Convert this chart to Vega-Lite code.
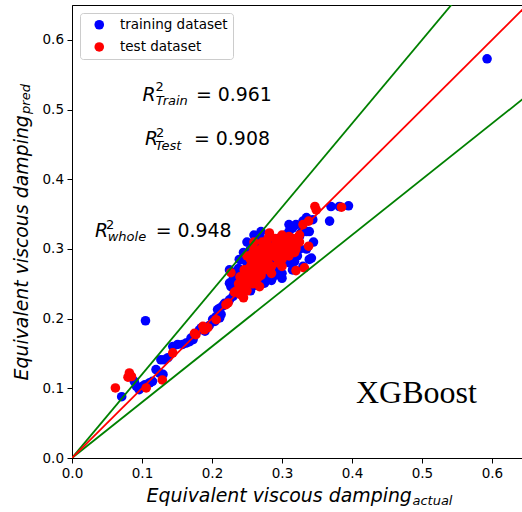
{
  "$schema": "https://vega.github.io/schema/vega-lite/v6.json",
  "width": 450,
  "height": 453,
  "autosize": {"type": "none"},
  "padding": {"left": 72, "top": 5, "right": 0, "bottom": 54},
  "background": "white",
  "config": {
    "view": {"stroke": "#000000", "strokeWidth": 1},
    "font": "DejaVu Sans",
    "axis": {
      "grid": false,
      "tickSize": 5,
      "tickColor": "#000000",
      "tickWidth": 1,
      "domainColor": "#000000",
      "domainWidth": 1,
      "labelColor": "#000000",
      "labelFont": "DejaVu Sans",
      "labelFontSize": 13.5,
      "labelPadding": 3.5,
      "labelFlush": false,
      "labelOverlap": false,
      "titleColor": "#000000",
      "titleFont": "DejaVu Sans",
      "titleFontStyle": "italic",
      "titleFontWeight": "normal",
      "titleFontSize": 18.9
    }
  },
  "datasets": {
    "points": [
      {"set": "training dataset", "actual": 0.071, "pred": 0.088},
      {"set": "training dataset", "actual": 0.089, "pred": 0.110},
      {"set": "training dataset", "actual": 0.092, "pred": 0.103},
      {"set": "training dataset", "actual": 0.096, "pred": 0.098},
      {"set": "training dataset", "actual": 0.101, "pred": 0.103},
      {"set": "training dataset", "actual": 0.104, "pred": 0.105},
      {"set": "training dataset", "actual": 0.111, "pred": 0.108},
      {"set": "training dataset", "actual": 0.115, "pred": 0.110},
      {"set": "training dataset", "actual": 0.120, "pred": 0.127},
      {"set": "training dataset", "actual": 0.125, "pred": 0.122},
      {"set": "training dataset", "actual": 0.130, "pred": 0.120},
      {"set": "training dataset", "actual": 0.127, "pred": 0.141},
      {"set": "training dataset", "actual": 0.132, "pred": 0.141},
      {"set": "training dataset", "actual": 0.137, "pred": 0.144},
      {"set": "training dataset", "actual": 0.105, "pred": 0.197},
      {"set": "training dataset", "actual": 0.144, "pred": 0.160},
      {"set": "training dataset", "actual": 0.151, "pred": 0.163},
      {"set": "training dataset", "actual": 0.158, "pred": 0.163},
      {"set": "training dataset", "actual": 0.163, "pred": 0.165},
      {"set": "training dataset", "actual": 0.168, "pred": 0.167},
      {"set": "training dataset", "actual": 0.170, "pred": 0.172},
      {"set": "training dataset", "actual": 0.173, "pred": 0.170},
      {"set": "training dataset", "actual": 0.182, "pred": 0.184},
      {"set": "training dataset", "actual": 0.185, "pred": 0.187},
      {"set": "training dataset", "actual": 0.190, "pred": 0.182},
      {"set": "training dataset", "actual": 0.196, "pred": 0.190},
      {"set": "training dataset", "actual": 0.201, "pred": 0.199},
      {"set": "training dataset", "actual": 0.206, "pred": 0.203},
      {"set": "training dataset", "actual": 0.204, "pred": 0.196},
      {"set": "training dataset", "actual": 0.211, "pred": 0.201},
      {"set": "training dataset", "actual": 0.213, "pred": 0.206},
      {"set": "training dataset", "actual": 0.208, "pred": 0.213},
      {"set": "training dataset", "actual": 0.211, "pred": 0.215},
      {"set": "training dataset", "actual": 0.215, "pred": 0.218},
      {"set": "training dataset", "actual": 0.218, "pred": 0.222},
      {"set": "training dataset", "actual": 0.225, "pred": 0.227},
      {"set": "training dataset", "actual": 0.230, "pred": 0.232},
      {"set": "training dataset", "actual": 0.225, "pred": 0.251},
      {"set": "training dataset", "actual": 0.230, "pred": 0.256},
      {"set": "training dataset", "actual": 0.227, "pred": 0.246},
      {"set": "training dataset", "actual": 0.232, "pred": 0.244},
      {"set": "training dataset", "actual": 0.237, "pred": 0.254},
      {"set": "training dataset", "actual": 0.239, "pred": 0.285},
      {"set": "training dataset", "actual": 0.246, "pred": 0.285},
      {"set": "training dataset", "actual": 0.242, "pred": 0.285},
      {"set": "training dataset", "actual": 0.225, "pred": 0.270},
      {"set": "training dataset", "actual": 0.235, "pred": 0.265},
      {"set": "training dataset", "actual": 0.240, "pred": 0.240},
      {"set": "training dataset", "actual": 0.245, "pred": 0.250},
      {"set": "training dataset", "actual": 0.250, "pred": 0.245},
      {"set": "training dataset", "actual": 0.255, "pred": 0.240},
      {"set": "training dataset", "actual": 0.262, "pred": 0.248},
      {"set": "training dataset", "actual": 0.275, "pred": 0.251},
      {"set": "training dataset", "actual": 0.270, "pred": 0.256},
      {"set": "training dataset", "actual": 0.280, "pred": 0.262},
      {"set": "training dataset", "actual": 0.285, "pred": 0.255},
      {"set": "training dataset", "actual": 0.296, "pred": 0.270},
      {"set": "training dataset", "actual": 0.300, "pred": 0.265},
      {"set": "training dataset", "actual": 0.311, "pred": 0.280},
      {"set": "training dataset", "actual": 0.339, "pred": 0.285},
      {"set": "training dataset", "actual": 0.342, "pred": 0.287},
      {"set": "training dataset", "actual": 0.330, "pred": 0.275},
      {"set": "training dataset", "actual": 0.322, "pred": 0.290},
      {"set": "training dataset", "actual": 0.315, "pred": 0.300},
      {"set": "training dataset", "actual": 0.320, "pred": 0.310},
      {"set": "training dataset", "actual": 0.325, "pred": 0.318},
      {"set": "training dataset", "actual": 0.330, "pred": 0.328},
      {"set": "training dataset", "actual": 0.335, "pred": 0.325},
      {"set": "training dataset", "actual": 0.339, "pred": 0.325},
      {"set": "training dataset", "actual": 0.327, "pred": 0.323},
      {"set": "training dataset", "actual": 0.344, "pred": 0.342},
      {"set": "training dataset", "actual": 0.330, "pred": 0.340},
      {"set": "training dataset", "actual": 0.335, "pred": 0.345},
      {"set": "training dataset", "actual": 0.368, "pred": 0.340},
      {"set": "training dataset", "actual": 0.370, "pred": 0.361},
      {"set": "training dataset", "actual": 0.382, "pred": 0.361},
      {"set": "training dataset", "actual": 0.395, "pred": 0.362},
      {"set": "training dataset", "actual": 0.593, "pred": 0.573},
      {"set": "training dataset", "actual": 0.255, "pred": 0.300},
      {"set": "training dataset", "actual": 0.260, "pred": 0.310},
      {"set": "training dataset", "actual": 0.265, "pred": 0.305},
      {"set": "training dataset", "actual": 0.270, "pred": 0.315},
      {"set": "training dataset", "actual": 0.275, "pred": 0.305},
      {"set": "training dataset", "actual": 0.290, "pred": 0.300},
      {"set": "training dataset", "actual": 0.300, "pred": 0.310},
      {"set": "training dataset", "actual": 0.305, "pred": 0.320},
      {"set": "training dataset", "actual": 0.310, "pred": 0.325},
      {"set": "training dataset", "actual": 0.315, "pred": 0.330},
      {"set": "training dataset", "actual": 0.295, "pred": 0.315},
      {"set": "training dataset", "actual": 0.285, "pred": 0.310},
      {"set": "training dataset", "actual": 0.250, "pred": 0.280},
      {"set": "training dataset", "actual": 0.258, "pred": 0.270},
      {"set": "training dataset", "actual": 0.265, "pred": 0.275},
      {"set": "training dataset", "actual": 0.248, "pred": 0.262},
      {"set": "training dataset", "actual": 0.233, "pred": 0.258},
      {"set": "training dataset", "actual": 0.238, "pred": 0.272},
      {"set": "training dataset", "actual": 0.290, "pred": 0.283},
      {"set": "training dataset", "actual": 0.305, "pred": 0.290},
      {"set": "training dataset", "actual": 0.312, "pred": 0.292},
      {"set": "training dataset", "actual": 0.325, "pred": 0.300},
      {"set": "training dataset", "actual": 0.318, "pred": 0.282},
      {"set": "training dataset", "actual": 0.280, "pred": 0.295},
      {"set": "training dataset", "actual": 0.275, "pred": 0.288},
      {"set": "training dataset", "actual": 0.260, "pred": 0.320},
      {"set": "training dataset", "actual": 0.270, "pred": 0.325},
      {"set": "training dataset", "actual": 0.245, "pred": 0.295},
      {"set": "training dataset", "actual": 0.250, "pred": 0.310},
      {"set": "training dataset", "actual": 0.310, "pred": 0.335},
      {"set": "training dataset", "actual": 0.320, "pred": 0.335},
      {"set": "training dataset", "actual": 0.315, "pred": 0.270},
      {"set": "training dataset", "actual": 0.300, "pred": 0.258},
      {"set": "training dataset", "actual": 0.290, "pred": 0.262},
      {"set": "training dataset", "actual": 0.335, "pred": 0.300},
      {"set": "training dataset", "actual": 0.345, "pred": 0.310},
      {"set": "test dataset", "actual": 0.062, "pred": 0.1005},
      {"set": "test dataset", "actual": 0.082, "pred": 0.122},
      {"set": "test dataset", "actual": 0.085, "pred": 0.117},
      {"set": "test dataset", "actual": 0.080, "pred": 0.116},
      {"set": "test dataset", "actual": 0.106, "pred": 0.1005},
      {"set": "test dataset", "actual": 0.129, "pred": 0.112},
      {"set": "test dataset", "actual": 0.144, "pred": 0.151},
      {"set": "test dataset", "actual": 0.175, "pred": 0.179},
      {"set": "test dataset", "actual": 0.177, "pred": 0.177},
      {"set": "test dataset", "actual": 0.187, "pred": 0.189},
      {"set": "test dataset", "actual": 0.189, "pred": 0.184},
      {"set": "test dataset", "actual": 0.192, "pred": 0.187},
      {"set": "test dataset", "actual": 0.194, "pred": 0.187},
      {"set": "test dataset", "actual": 0.206, "pred": 0.1985},
      {"set": "test dataset", "actual": 0.220, "pred": 0.220},
      {"set": "test dataset", "actual": 0.223, "pred": 0.2225},
      {"set": "test dataset", "actual": 0.227, "pred": 0.266},
      {"set": "test dataset", "actual": 0.246, "pred": 0.270},
      {"set": "test dataset", "actual": 0.258, "pred": 0.294},
      {"set": "test dataset", "actual": 0.263, "pred": 0.285},
      {"set": "test dataset", "actual": 0.268, "pred": 0.246},
      {"set": "test dataset", "actual": 0.282, "pred": 0.323},
      {"set": "test dataset", "actual": 0.338, "pred": 0.304},
      {"set": "test dataset", "actual": 0.320, "pred": 0.269},
      {"set": "test dataset", "actual": 0.332, "pred": 0.273},
      {"set": "test dataset", "actual": 0.338, "pred": 0.340},
      {"set": "test dataset", "actual": 0.347, "pred": 0.361},
      {"set": "test dataset", "actual": 0.349, "pred": 0.356},
      {"set": "test dataset", "actual": 0.385, "pred": 0.360},
      {"set": "test dataset", "actual": 0.235, "pred": 0.240},
      {"set": "test dataset", "actual": 0.240, "pred": 0.235},
      {"set": "test dataset", "actual": 0.242, "pred": 0.245},
      {"set": "test dataset", "actual": 0.245, "pred": 0.230},
      {"set": "test dataset", "actual": 0.248, "pred": 0.250},
      {"set": "test dataset", "actual": 0.250, "pred": 0.240},
      {"set": "test dataset", "actual": 0.252, "pred": 0.255},
      {"set": "test dataset", "actual": 0.255, "pred": 0.260},
      {"set": "test dataset", "actual": 0.258, "pred": 0.250},
      {"set": "test dataset", "actual": 0.260, "pred": 0.265},
      {"set": "test dataset", "actual": 0.262, "pred": 0.272},
      {"set": "test dataset", "actual": 0.265, "pred": 0.280},
      {"set": "test dataset", "actual": 0.268, "pred": 0.268},
      {"set": "test dataset", "actual": 0.270, "pred": 0.290},
      {"set": "test dataset", "actual": 0.272, "pred": 0.275},
      {"set": "test dataset", "actual": 0.275, "pred": 0.285},
      {"set": "test dataset", "actual": 0.278, "pred": 0.295},
      {"set": "test dataset", "actual": 0.280, "pred": 0.280},
      {"set": "test dataset", "actual": 0.282, "pred": 0.300},
      {"set": "test dataset", "actual": 0.285, "pred": 0.290},
      {"set": "test dataset", "actual": 0.288, "pred": 0.296},
      {"set": "test dataset", "actual": 0.290, "pred": 0.305},
      {"set": "test dataset", "actual": 0.292, "pred": 0.288},
      {"set": "test dataset", "actual": 0.295, "pred": 0.298},
      {"set": "test dataset", "actual": 0.298, "pred": 0.305},
      {"set": "test dataset", "actual": 0.300, "pred": 0.292},
      {"set": "test dataset", "actual": 0.302, "pred": 0.300},
      {"set": "test dataset", "actual": 0.305, "pred": 0.310},
      {"set": "test dataset", "actual": 0.308, "pred": 0.298},
      {"set": "test dataset", "actual": 0.310, "pred": 0.305},
      {"set": "test dataset", "actual": 0.312, "pred": 0.312},
      {"set": "test dataset", "actual": 0.315, "pred": 0.300},
      {"set": "test dataset", "actual": 0.318, "pred": 0.295},
      {"set": "test dataset", "actual": 0.320, "pred": 0.305},
      {"set": "test dataset", "actual": 0.322, "pred": 0.316},
      {"set": "test dataset", "actual": 0.325, "pred": 0.310},
      {"set": "test dataset", "actual": 0.270, "pred": 0.300},
      {"set": "test dataset", "actual": 0.265, "pred": 0.295},
      {"set": "test dataset", "actual": 0.275, "pred": 0.270},
      {"set": "test dataset", "actual": 0.285, "pred": 0.275},
      {"set": "test dataset", "actual": 0.295, "pred": 0.280},
      {"set": "test dataset", "actual": 0.300, "pred": 0.285},
      {"set": "test dataset", "actual": 0.255, "pred": 0.285},
      {"set": "test dataset", "actual": 0.260, "pred": 0.300},
      {"set": "test dataset", "actual": 0.250, "pred": 0.290},
      {"set": "test dataset", "actual": 0.245, "pred": 0.260},
      {"set": "test dataset", "actual": 0.238, "pred": 0.250},
      {"set": "test dataset", "actual": 0.232, "pred": 0.238},
      {"set": "test dataset", "actual": 0.265, "pred": 0.258},
      {"set": "test dataset", "actual": 0.280, "pred": 0.305},
      {"set": "test dataset", "actual": 0.290, "pred": 0.315},
      {"set": "test dataset", "actual": 0.300, "pred": 0.320},
      {"set": "test dataset", "actual": 0.310, "pred": 0.318},
      {"set": "test dataset", "actual": 0.330, "pred": 0.335},
      {"set": "test dataset", "actual": 0.295, "pred": 0.310},
      {"set": "test dataset", "actual": 0.305, "pred": 0.292},
      {"set": "test dataset", "actual": 0.260, "pred": 0.310},
      {"set": "test dataset", "actual": 0.272, "pred": 0.310},
      {"set": "test dataset", "actual": 0.280, "pred": 0.315},
      {"set": "test dataset", "actual": 0.290, "pred": 0.295},
      {"set": "test dataset", "actual": 0.305, "pred": 0.302},
      {"set": "test dataset", "actual": 0.315, "pred": 0.315},
      {"set": "test dataset", "actual": 0.275, "pred": 0.300},
      {"set": "test dataset", "actual": 0.285, "pred": 0.300},
      {"set": "test dataset", "actual": 0.300, "pred": 0.300},
      {"set": "test dataset", "actual": 0.260, "pred": 0.280},
      {"set": "test dataset", "actual": 0.270, "pred": 0.280},
      {"set": "test dataset", "actual": 0.280, "pred": 0.288},
      {"set": "test dataset", "actual": 0.250, "pred": 0.270},
      {"set": "test dataset", "actual": 0.255, "pred": 0.275},
      {"set": "test dataset", "actual": 0.240, "pred": 0.260},
      {"set": "test dataset", "actual": 0.260, "pred": 0.255},
      {"set": "test dataset", "actual": 0.270, "pred": 0.262},
      {"set": "test dataset", "actual": 0.285, "pred": 0.265},
      {"set": "test dataset", "actual": 0.310, "pred": 0.290},
      {"set": "test dataset", "actual": 0.320, "pred": 0.300},
      {"set": "test dataset", "actual": 0.325, "pred": 0.320},
      {"set": "test dataset", "actual": 0.300, "pred": 0.275}
    ],
    "refs": [
      {"line": "upper", "actual": 0, "pred": 0},
      {"line": "upper", "actual": 0.7, "pred": 0.84},
      {"line": "ideal", "actual": 0, "pred": 0},
      {"line": "ideal", "actual": 0.7, "pred": 0.7},
      {"line": "lower", "actual": 0, "pred": 0},
      {"line": "lower", "actual": 0.7, "pred": 0.56}
    ]
  },
  "layer": [
    {
      "data": {"name": "points"},
      "mark": {"type": "point", "shape": "circle", "filled": true, "opacity": 1, "size": 92, "strokeWidth": 0},
      "encoding": {
        "x": {
          "field": "actual", "type": "quantitative",
          "scale": {"domain": [0, 0.6429], "nice": false, "zero": false},
          "axis": {
            "values": [0, 0.1, 0.2, 0.3, 0.4, 0.5, 0.6], "format": ".1f",
            "title": "Equivalent viscous damping",
            "titleAlign": "left", "titleBaseline": "alphabetic",
            "titleX": 74, "titleY": 43.7
          }
        },
        "y": {
          "field": "pred", "type": "quantitative",
          "scale": {"domain": [0, 0.6502], "nice": false, "zero": false},
          "axis": {
            "values": [0, 0.1, 0.2, 0.3, 0.4, 0.5, 0.6], "format": ".1f",
            "title": "Equivalent viscous damping",
            "titleAngle": 270, "titleAlign": "left", "titleBaseline": "alphabetic",
            "titleX": -45, "titleY": 375
          }
        },
        "color": {
          "field": "set", "type": "nominal",
          "scale": {"domain": ["training dataset", "test dataset"], "range": ["#0000ff", "#ff0000"]},
          "legend": {
            "title": null, "orient": "none", "legendX": 8, "legendY": 8,
            "padding": 5, "symbolOffset": 7.5, "labelOffset": 14,
            "symbolType": "circle", "symbolSize": 92, "symbolStrokeWidth": 0,
            "labelFont": "DejaVu Sans", "labelFontSize": 13.5, "labelColor": "#000000",
            "rowPadding": 7.2, "fillColor": "#ffffff", "strokeColor": "#cccccc",
            "cornerRadius": 3
          }
        }
      }
    },
    {
      "data": {"name": "refs"},
      "transform": [{"filter": "datum.line !== 'ideal'"}],
      "mark": {"type": "line", "color": "#008000", "strokeWidth": 1.8, "clip": true},
      "encoding": {
        "x": {"field": "actual", "type": "quantitative"},
        "y": {"field": "pred", "type": "quantitative"},
        "detail": {"field": "line", "type": "nominal"}
      }
    },
    {
      "data": {"name": "refs"},
      "transform": [{"filter": "datum.line === 'ideal'"}],
      "mark": {"type": "line", "color": "#ff0000", "strokeWidth": 1.8, "clip": true},
      "encoding": {
        "x": {"field": "actual", "type": "quantitative"},
        "y": {"field": "pred", "type": "quantitative"}
      }
    },
    {
      "data": {"values": [{}]},
      "mark": {"type": "text", "text": "actual", "font": "DejaVu Sans", "fontStyle": "italic", "fontSize": 13, "align": "left", "baseline": "alphabetic", "color": "#000000"},
      "encoding": {"x": {"datum": 0.4864}, "y": {"datum": -0.0675}}
    },
    {
      "data": {"values": [{}]},
      "mark": {"type": "text", "text": "pred", "angle": 270, "font": "DejaVu Sans", "fontStyle": "italic", "fontSize": 13, "align": "left", "baseline": "alphabetic", "color": "#000000"},
      "encoding": {"x": {"datum": -0.0596}, "y": {"datum": 0.4938}}
    },
    {
      "data": {"values": [{}]},
      "mark": {"type": "text", "text": "R", "font": "DejaVu Sans", "fontStyle": "italic", "fontSize": 18.9, "align": "left", "baseline": "alphabetic", "color": "#000000"},
      "encoding": {"x": {"datum": 0.1007}, "y": {"datum": 0.5128}}
    },
    {
      "data": {"values": [{}]},
      "mark": {"type": "text", "text": "2", "font": "DejaVu Sans", "fontSize": 13, "align": "left", "baseline": "alphabetic", "color": "#000000"},
      "encoding": {"x": {"datum": 0.1192}, "y": {"datum": 0.5262}}
    },
    {
      "data": {"values": [{}]},
      "mark": {"type": "text", "text": "Train", "font": "DejaVu Sans", "fontStyle": "italic", "fontSize": 13, "align": "left", "baseline": "alphabetic", "color": "#000000"},
      "encoding": {"x": {"datum": 0.1196}, "y": {"datum": 0.506}}
    },
    {
      "data": {"values": [{}]},
      "mark": {"type": "text", "text": "= 0.961", "font": "DejaVu Sans", "fontSize": 18.9, "align": "left", "baseline": "alphabetic", "color": "#000000"},
      "encoding": {"x": {"datum": 0.1771}, "y": {"datum": 0.5128}}
    },
    {
      "data": {"values": [{}]},
      "mark": {"type": "text", "text": "R", "font": "DejaVu Sans", "fontStyle": "italic", "fontSize": 18.9, "align": "left", "baseline": "alphabetic", "color": "#000000"},
      "encoding": {"x": {"datum": 0.1043}, "y": {"datum": 0.4493}}
    },
    {
      "data": {"values": [{}]},
      "mark": {"type": "text", "text": "2", "font": "DejaVu Sans", "fontSize": 13, "align": "left", "baseline": "alphabetic", "color": "#000000"},
      "encoding": {"x": {"datum": 0.1199}, "y": {"datum": 0.4602}}
    },
    {
      "data": {"values": [{}]},
      "mark": {"type": "text", "text": "Test", "font": "DejaVu Sans", "fontStyle": "italic", "fontSize": 13, "align": "left", "baseline": "alphabetic", "color": "#000000"},
      "encoding": {"x": {"datum": 0.1188}, "y": {"datum": 0.4414}}
    },
    {
      "data": {"values": [{}]},
      "mark": {"type": "text", "text": "= 0.908", "font": "DejaVu Sans", "fontSize": 18.9, "align": "left", "baseline": "alphabetic", "color": "#000000"},
      "encoding": {"x": {"datum": 0.1743}, "y": {"datum": 0.4493}}
    },
    {
      "data": {"values": [{}]},
      "mark": {"type": "text", "text": "R", "font": "DejaVu Sans", "fontStyle": "italic", "fontSize": 18.9, "align": "left", "baseline": "alphabetic", "color": "#000000"},
      "encoding": {"x": {"datum": 0.0329}, "y": {"datum": 0.3176}}
    },
    {
      "data": {"values": [{}]},
      "mark": {"type": "text", "text": "2", "font": "DejaVu Sans", "fontSize": 13, "align": "left", "baseline": "alphabetic", "color": "#000000"},
      "encoding": {"x": {"datum": 0.0485}, "y": {"datum": 0.3286}}
    },
    {
      "data": {"values": [{}]},
      "mark": {"type": "text", "text": "whole", "font": "DejaVu Sans", "fontStyle": "italic", "fontSize": 13, "align": "left", "baseline": "alphabetic", "color": "#000000"},
      "encoding": {"x": {"datum": 0.051}, "y": {"datum": 0.3108}}
    },
    {
      "data": {"values": [{}]},
      "mark": {"type": "text", "text": "= 0.948", "font": "DejaVu Sans", "fontSize": 18.9, "align": "left", "baseline": "alphabetic", "color": "#000000"},
      "encoding": {"x": {"datum": 0.1196}, "y": {"datum": 0.3176}}
    },
    {
      "data": {"values": [{}]},
      "mark": {"type": "text", "text": "XGBoost", "font": "Liberation Serif", "fontSize": 32, "align": "left", "baseline": "alphabetic", "color": "#000000"},
      "encoding": {"x": {"datum": 0.4057}, "y": {"datum": 0.0794}}
    }
  ]
}
